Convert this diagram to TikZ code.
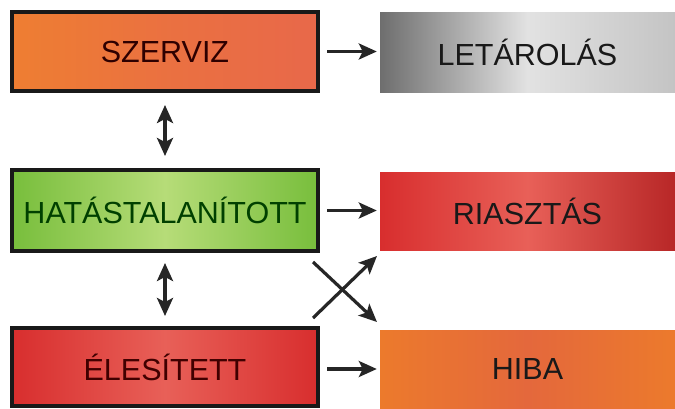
\documentclass[tikz,border=0pt]{standalone}
\usepackage{fontspec}
\setmainfont{Liberation Sans}
\usetikzlibrary{arrows.meta,calc}
\definecolor{orA}{HTML}{EE7E32}
\definecolor{orB}{HTML}{E8684A}
\definecolor{grA}{HTML}{78BE3C}
\definecolor{grB}{HTML}{B6DC78}
\definecolor{rdA}{HTML}{D82E2E}
\definecolor{rdB}{HTML}{E86058}
\definecolor{gyA}{HTML}{6E6E6E}
\definecolor{gyB}{HTML}{E2E2E2}
\definecolor{gyC}{HTML}{C4C4C4}
\definecolor{hbA}{HTML}{EC7A2C}
\definecolor{hbB}{HTML}{E4683C}
\tikzset{
  state/.style={draw=black!90, line width=4pt, minimum width=306pt, inner sep=0pt, font=\fontsize{30.5}{31}\selectfont},
  outcome/.style={draw=none, minimum width=295pt, inner sep=0pt, font=\fontsize{30.5}{31}\selectfont, text=black!90},
  tip/.style={},
  arr/.style={line width=3.2pt, black!85, -{Stealth[length=18pt,width=16pt,inset=4pt]}},
  darr/.style={line width=3.2pt, black!85, {Stealth[length=18pt,width=16pt,inset=4pt]}-{Stealth[length=18pt,width=16pt,inset=4pt]}}
}
\begin{document}
\begin{tikzpicture}[x=1pt,y=-1pt]
\useasboundingbox (0,0) rectangle (675,408);
\fill[white] (0,0) rectangle (675,408);
% left states
\node[state, minimum height=79pt, left color=orA, right color=orB, middle color=orB!60!orA, text=black!70!red!60!black] (szerviz) at (165,51.5) {SZERVIZ};
\node[state, minimum height=81pt, left color=grA, right color=grA, middle color=grB, text=green!25!black] (hatas) at (165,210.5) {HATÁSTALANÍTOTT};
\node[state, minimum height=78pt, left color=rdA, right color=rdA, middle color=rdB, text=red!25!black] (eles) at (165,367) {ÉLESÍTETT};
% right outcomes
\node[outcome, minimum height=80pt, left color=gyA, right color=gyC, middle color=gyB] (letarolas) at (527.5,52) {LETÁROLÁS};
\node[outcome, minimum height=78pt, left color=rdA, right color=rdA!85!black, middle color=rdB] (riasztas) at (527.5,211) {RIASZTÁS};
\node[outcome, minimum height=78pt, left color=hbA, right color=hbA, middle color=hbB] (hiba) at (527.5,369) {HIBA};
% horizontal arrows
\draw[arr, shorten <=7pt, shorten >=3pt] (szerviz.east) -- (szerviz.east -| letarolas.west);
\draw[arr, shorten <=7pt, shorten >=3pt] (hatas.east) -- (hatas.east -| riasztas.west);
\draw[arr, shorten <=7pt, shorten >=3pt] ($(eles.east)+(0,2)$) -- ($(eles.east -| hiba.west)+(0,2)$);
% vertical double arrows
\draw[darr, shorten <=12pt, shorten >=12pt] (szerviz.south) -- (hatas.north);
\draw[darr, shorten <=10pt, shorten >=10pt] (hatas.south) -- (eles.north);
% cross arrows
\coordinate (c1) at (313,318);
\coordinate (c2) at (377,256);
\coordinate (c3) at (313,262);
\coordinate (c4) at (377,322);
\draw[arr] (c1) -- (c2);
\draw[arr] (c3) -- (c4);
\end{tikzpicture}
\end{document}
